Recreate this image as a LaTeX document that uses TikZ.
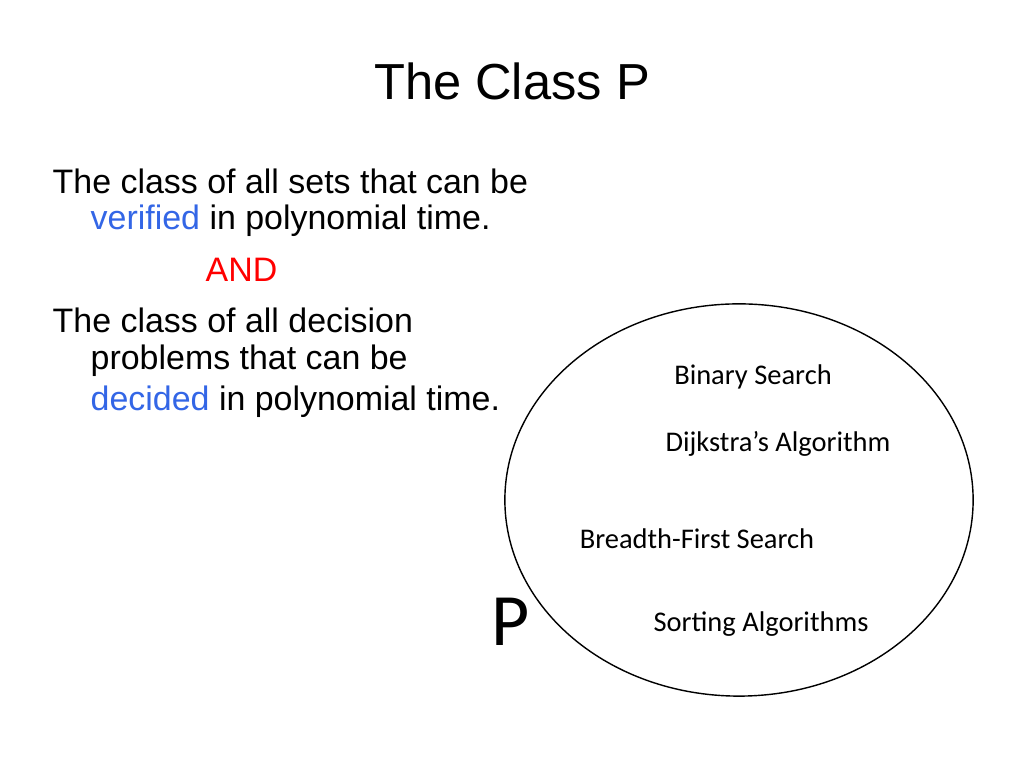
\documentclass[tikz,border=0pt]{standalone}
\usepackage{fontspec}
\setmainfont{Liberation Sans}
\newfontfamily\calib{Carlito}
\definecolor{vblue}{RGB}{51,102,230}
\tikzset{
  body/.style={anchor=west, inner sep=0pt, font=\fontsize{9.65pt}{11pt}\selectfont},
  algo/.style={inner sep=0pt, font=\calib\fontsize{8.1pt}{9pt}\selectfont}
}
\begin{document}
\begin{tikzpicture}[x=0.01cm, y=-0.01cm]
	\useasboundingbox (0,0) rectangle (1024,768);
	\node[inner sep=0pt, font=\fontsize{14.4pt}{16pt}\selectfont] (title) at (512,81) {The Class P};
	
	\node[body] (l1) at (52,181) {The class of all sets that can be};
	\node[body] (l2) at (90,221) {\textcolor{vblue}{verified} in polynomial time.};
	\node[body, text=red] (and) at (205,270) {AND};
	\node[body] (l4) at (52,320) {The class of all decision};
	\node[body] (l5) at (90,361) {problems that can be};
	\node[body] (l6) at (90,402) {\textcolor{vblue}{decided} in polynomial time.};
	
	\draw[line width=0.4pt] (739,500) ellipse [x radius=2.34cm, y radius=1.96cm];
	\node[algo] (bs) at (753,377) {Binary Search};
	\node[algo] (dj) at (778,444) {Dijkstra’s Algorithm};
	\node[algo] (bfs) at (697,539) {Breadth-First Search};
	\node[algo] (sort) at (761,624) {Sorting Algorithms};
	\node[inner sep=0pt, font=\calib\fontsize{21pt}{23pt}\selectfont] (p) at (511,622) {P};
\end{tikzpicture}
\end{document}
